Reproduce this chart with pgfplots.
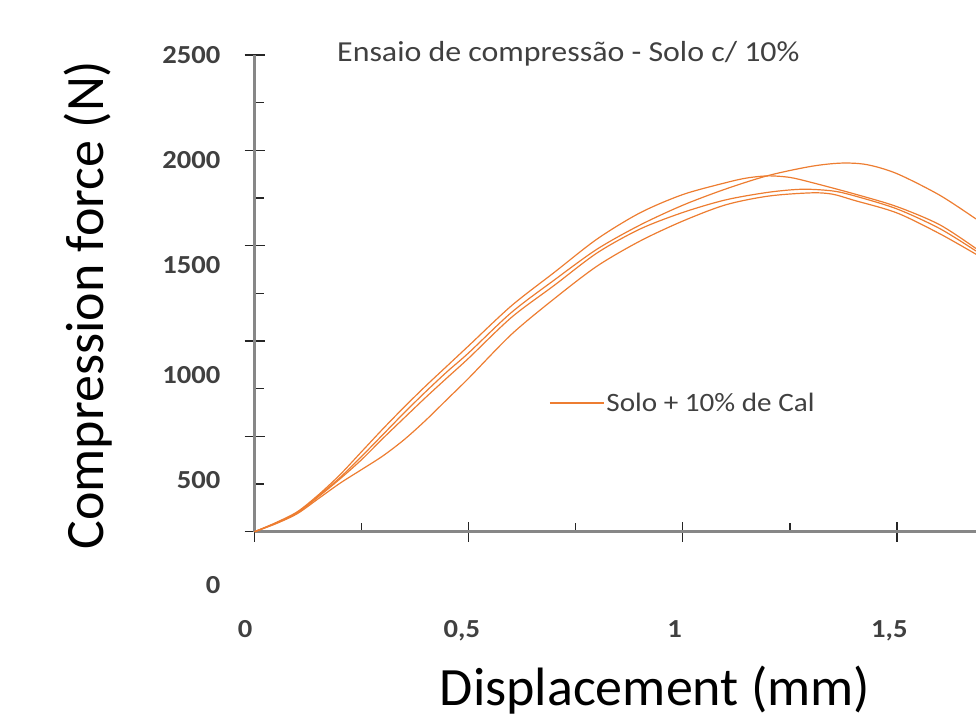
\documentclass[border=0pt]{standalone}
\usepackage{pgfplots}
\pgfplotsset{compat=1.18}
\usepackage{fontspec}
\setmainfont{Carlito}
\newfontfamily\chartfont{Carlito}[FakeStretch=1.1]
\definecolor{axisgray}{HTML}{878787}
\definecolor{tickcol}{HTML}{262626}
\definecolor{textgray}{HTML}{404040}
\definecolor{curveor}{HTML}{ED7D31}

\pgfplotstableread{
x y
0 0
0.05 48
0.1 105
0.15 195
0.2 300
0.25 420
0.3 540
0.35 655
0.4 765
0.45 870
0.5 975
0.6 1185
0.7 1360
0.8 1535
0.9 1672
1.0 1768
1.1 1830
1.15 1855
1.2 1866
1.25 1858
1.3 1832
1.4 1772
1.5 1705
1.6 1610
1.685 1485
}\curveA

\pgfplotstableread{
x y
0 0
0.05 45
0.1 100
0.15 190
0.2 285
0.25 395
0.3 510
0.35 625
0.4 735
0.45 840
0.5 938
0.6 1150
0.7 1320
0.8 1482
0.9 1608
1.0 1712
1.1 1797
1.2 1868
1.3 1916
1.37 1933
1.43 1925
1.5 1878
1.6 1765
1.685 1640
}\curveB

\pgfplotstableread{
x y
0 0
0.05 45
0.1 100
0.15 185
0.2 278
0.25 378
0.3 490
0.35 598
0.4 705
0.45 808
0.5 910
0.6 1124
0.7 1292
0.8 1462
0.9 1587
1.0 1674
1.1 1740
1.2 1780
1.28 1796
1.35 1787
1.4 1762
1.5 1693
1.6 1590
1.685 1472
}\curveC

\pgfplotstableread{
x y
0 0
0.05 42
0.1 95
0.15 175
0.2 255
0.25 326
0.3 398
0.35 484
0.4 585
0.45 695
0.5 805
0.6 1035
0.7 1222
0.8 1393
0.9 1524
1.0 1629
1.1 1714
1.2 1760
1.3 1777
1.35 1770
1.4 1738
1.5 1672
1.6 1563
1.685 1455
}\curveD

\begin{document}
\begin{tikzpicture}
\useasboundingbox (0,0) rectangle (976pt,718pt);
\begin{axis}[
  at={(254.6pt,186.3pt)}, anchor=south west,
  scale only axis, width=721.4pt, height=476.7pt,
  xmin=0, xmax=1.685, ymin=0, ymax=2500,
  axis x line=bottom, axis y line=left,
  axis line style={-, draw=axisgray, line width=2.8pt},
  xtick={0,0.5,1,1.5}, ytick={0,500,1000,1500,2000,2500},
  minor x tick num=1, minor y tick num=1,
  xticklabels={}, yticklabels={},
  tick align=center,
  major tick length=20pt, minor tick length=9pt,
  tick style={draw=tickcol, line width=1.5pt},
  every minor x tick/.style={yshift=4.5pt},
  every minor y tick/.style={xshift=4.5pt},
  clip=false,
  legend style={at={(0.404,0.27)}, anchor=west, draw=none, fill=none,
    font=\chartfont\fontsize{26.5}{30}\selectfont, text=textgray,
    nodes={inner sep=2pt}},
  legend cell align=left,
  legend image code/.code={\draw[#1] (0pt,0pt) -- (54pt,0pt);},
]
\addplot[curveor, line width=1.2pt, smooth, forget plot] table {\curveA};
\addplot[curveor, line width=1.2pt, smooth] table {\curveB};
\addlegendentry{Solo + 10\% de Cal}
\addplot[curveor, line width=1.2pt, smooth, forget plot] table {\curveC};
\addplot[curveor, line width=1.2pt, smooth, forget plot] table {\curveD};

% tick labels (offset as in the original)
\begin{scope}[every node/.style={font=\chartfont\bfseries\fontsize{26}{30}\selectfont, text=textgray, inner sep=0pt}]
\node[anchor=base east, xshift=-34pt] at (axis cs:0,2456) {2500};
\node[anchor=base east, xshift=-34pt] at (axis cs:0,1906) {2000};
\node[anchor=base east, xshift=-34pt] at (axis cs:0,1355) {1500};
\node[anchor=base east, xshift=-34pt] at (axis cs:0,778) {1000};
\node[anchor=base east, xshift=-34pt] at (axis cs:0,228) {500};
\node[anchor=base east, xshift=-34pt] at (axis cs:0,-323) {0};
\node[anchor=base] at (axis cs:-0.022,-557) {0};
\node[anchor=base] at (axis cs:0.484,-557) {0,5};
\node[anchor=base] at (axis cs:0.981,-557) {1};
\node[anchor=base] at (axis cs:1.4825,-557) {1,5};
\end{scope}
\node[anchor=base west, font=\chartfont\fontsize{29}{32}\selectfont, text=textgray, inner sep=0pt]
  at (rel axis cs:0.1142,0.9874) {Ensaio de compressão - Solo c/ 10\%};
\end{axis}
\node[font=\fontsize{54}{60}\selectfont, anchor=base, inner sep=0pt] at (655pt,13pt) {Displacement (mm)};
\node[font=\fontsize{54}{60}\selectfont, rotate=90, anchor=base, inner sep=0pt] at (103pt,413pt) {Compression force (N)};
\end{tikzpicture}
\end{document}
